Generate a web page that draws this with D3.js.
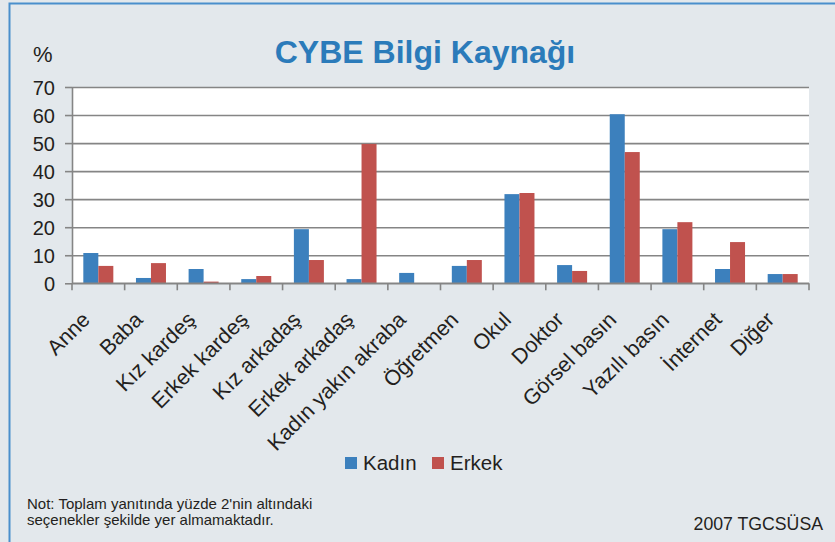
<!DOCTYPE html>
<html>
  <head>
    <meta charset="utf-8">
    <script src="https://d3js.org/d3.v7.min.js"></script>
    <style>
    body { margin: 0; background: #e3e8ec; }
    svg { display: block; font-family: 'Liberation Sans', Arial, sans-serif; }
    .grid line { stroke: #858585; stroke-width: 1.6; }
    .axis line, .axis path { stroke: #858585; stroke-width: 1.6; fill: none; }
    .lbl { fill: #231f20; }
    </style>
  </head>
  <body>
    <script>

      // data
      var categories = ["Anne", "Baba", "Kız kardeş", "Erkek kardeş", "Kız arkadaş",
        "Erkek arkadaş", "Kadın yakın akraba", "Öğretmen", "Okul", "Doktor",
        "Görsel basın", "Yazılı basın", "İnternet", "Diğer"];
      var kadin = [10.8, 1.9, 5.1, 1.5, 19.3, 1.5, 3.7, 6.2, 31.8, 6.5, 60.3, 19.3, 5.1, 3.3];
      var erkek = [6.2, 7.2, 0.6, 2.6, 8.3, 49.7, 0, 8.3, 32.2, 4.4, 46.8, 21.8, 14.7, 3.3];
      var series = ["Kadın", "Erkek"];
      var yTicks = [0, 10, 20, 30, 40, 50, 60, 70];

      var colors = { "Kadın": "#3c80bd", "Erkek": "#c0524e" };

      // setup
      var w = 835, h = 542;
      var margin = { top: 87, left: 72, right: 26, bottom: 259 };
      var plotRight = w - margin.right;
      var plotBottom = h - margin.bottom + 0.3;

      var svg = d3.select("body").append("svg")
          .attr("width", w)
          .attr("height", h);

      // frame
      svg.append("rect").attr("width", w).attr("height", h).attr("fill", "#e3e8ec");
      svg.append("path")
          .attr("d", "M9.5," + h + "V3.5H" + w)
          .attr("fill", "none")
          .attr("stroke", "#4a8fcc")
          .attr("stroke-width", 2);

      // scales
      var xScale = d3.scaleBand()
          .domain(categories)
          .range([margin.left, plotRight])
          .paddingInner(0.43)
          .paddingOuter(0.215);
      var subScale = d3.scaleBand()
          .domain(series)
          .range([0, xScale.bandwidth()]);
      var yScale = d3.scaleLinear()
          .domain([0, 70])
          .range([plotBottom, margin.top]);

      // plot background
      svg.append("rect")
          .attr("x", margin.left)
          .attr("y", yScale(70))
          .attr("width", plotRight - margin.left)
          .attr("height", yScale(0) - yScale(70))
          .attr("fill", "#ffffff");

      // gridlines
      svg.append("g")
          .attr("class", "grid")
          .attr("transform", "translate(" + margin.left + ",0)")
          .call(d3.axisLeft(yScale).tickValues(yTicks).tickSize(-(plotRight - margin.left)).tickFormat(""))
          .call(function (g) { g.select(".domain").remove(); });

      // y axis
      var yAxis = svg.append("g")
          .attr("class", "axis")
          .attr("transform", "translate(" + margin.left + ",0)")
          .call(d3.axisLeft(yScale).tickValues(yTicks).tickSize(7).tickSizeOuter(0).tickPadding(10));
      yAxis.selectAll("text")
          .attr("class", "lbl")
          .style("font-size", "20px")
          .attr("dy", "0.36em");

      // bars
      var rows = categories.map(function (c, i) {
        return { cat: c, values: [{ key: "Kadın", v: kadin[i] }, { key: "Erkek", v: erkek[i] }] };
      });
      svg.append("g").selectAll("g")
          .data(rows)
          .join("g")
          .attr("transform", function (d) { return "translate(" + xScale(d.cat) + ",0)"; })
          .selectAll("rect")
          .data(function (d) { return d.values; })
          .join("rect")
          .attr("x", function (d) { return subScale(d.key); })
          .attr("width", subScale.bandwidth())
          .attr("y", function (d) { return yScale(d.v); })
          .attr("height", function (d) { return yScale(0) - yScale(d.v); })
          .attr("fill", function (d) { return colors[d.key]; });

      // x axis with ticks between categories
      var xAxis = svg.append("g").attr("class", "axis");
      xAxis.append("line")
          .attr("x1", margin.left).attr("x2", plotRight)
          .attr("y1", yScale(0)).attr("y2", yScale(0));
      xAxis.selectAll(".tk")
          .data(d3.range(categories.length + 1))
          .join("line")
          .attr("class", "tk")
          .attr("x1", function (i) { return margin.left + i * xScale.step(); })
          .attr("x2", function (i) { return margin.left + i * xScale.step(); })
          .attr("y1", yScale(0))
          .attr("y2", yScale(0) + 7);

      // category labels
      svg.append("g").selectAll("text")
          .data(categories)
          .join("text")
          .attr("class", "lbl")
          .attr("transform", function (d) {
            var cx = xScale(d) + xScale.bandwidth() / 2;
            return "translate(" + (cx - 7) + "," + 321 + ") rotate(-45)";
          })
          .attr("text-anchor", "end")
          .style("font-size", "21.5px")
          .text(function (d) { return d; });

      // title
      svg.append("text")
          .attr("x", 425).attr("y", 63)
          .attr("text-anchor", "middle")
          .style("font-size", "32px")
          .style("font-weight", "bold")
          .attr("fill", "#2b7bba")
          .text("CYBE Bilgi Kaynağı");

      svg.append("text")
          .attr("class", "lbl")
          .attr("x", 33).attr("y", 62)
          .style("font-size", "22px")
          .text("%");

      // legend
      var legend = svg.append("g");
      var legX = [345, 432];
      series.forEach(function (s, i) {
        legend.append("rect")
            .attr("x", legX[i]).attr("y", 457)
            .attr("width", 12).attr("height", 12)
            .attr("fill", colors[s]);
        legend.append("text")
            .attr("class", "lbl")
            .attr("x", legX[i] + 18).attr("y", 470)
            .style("font-size", "20.5px")
            .text(s);
      });

      // notes
      var note = svg.append("text")
          .attr("class", "lbl")
          .style("font-size", "15px");
      note.append("tspan").attr("x", 27).attr("y", 509).text("Not: Toplam yanıtında yüzde 2'nin altındaki");
      note.append("tspan").attr("x", 27).attr("y", 525).text("seçenekler şekilde yer almamaktadır.");

      svg.append("text")
          .attr("class", "lbl")
          .attr("x", 823).attr("y", 530)
          .attr("text-anchor", "end")
          .style("font-size", "17.7px")
          .text("2007 TGCSÜSA");

    </script>
  </body>
</html>
